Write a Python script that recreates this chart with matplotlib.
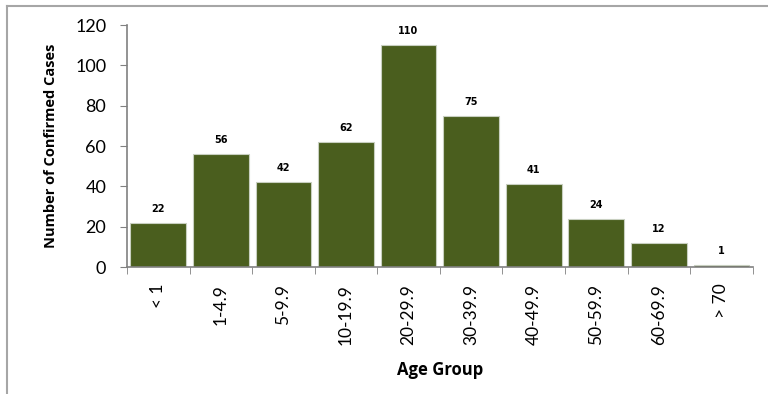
import matplotlib.pyplot as plt
from matplotlib.lines import Line2D
import numpy as np

# Datos
grupos = ['< 1', '1-4.9', '5-9.9', '10-19.9', '20-29.9', '30-39.9',
          '40-49.9', '50-59.9', '60-69.9', '> 70']
casos = [22, 56, 42, 62, 110, 75, 41, 24, 12, 1]

plt.rcParams['font.family'] = ['Lato', 'DejaVu Sans']

fig = plt.figure(figsize=(7.68, 3.94), dpi=100)
ax = fig.add_axes([0.1654, 0.3223, 0.8146, 0.6142])

x = np.arange(len(grupos))
ax.bar(x, casos, width=0.89, color='#4a5e1e', edgecolor='#c8cfc0', linewidth=0.8)

for xi, v in zip(x, casos):
    ax.text(xi, v + 4.5, str(v), ha='center', va='bottom', fontsize=7,
            fontweight='bold', family=['DejaVu Sans'])

ax.set_xlim(-0.5, len(grupos) - 0.5)
ax.set_ylim(0, 120)
ax.set_yticks(range(0, 121, 20))
ax.tick_params(axis='y', labelsize=13, length=5, pad=10, color='#808080', direction='out')
ax.set_xticks(x)
ax.set_xticklabels(grupos, rotation=90, fontsize=12.5)
ax.tick_params(axis='x', length=0, pad=12)
ax.set_xticks(np.arange(-0.5, len(grupos)), minor=True)
ax.tick_params(axis='x', which='minor', length=5, color='#808080', direction='out')

for s in ['top', 'right']:
    ax.spines[s].set_visible(False)
for s in ['left', 'bottom']:
    ax.spines[s].set_color('#808080')
    ax.spines[s].set_linewidth(1.2)

ax.set_ylabel('Number of Confirmed Cases', fontsize=10.5, fontweight='bold',
              labelpad=12, family=['Open Sans', 'DejaVu Sans'])
ax.set_xlabel('Age Group', fontsize=12, fontweight='bold', labelpad=12,
              family=['Open Sans', 'DejaVu Sans'])

# Marco del gráfico
fig.add_artist(Line2D([7 / 768, 1], [1 - 6 / 394, 1 - 6 / 394], color='#a6a6a6', lw=1.5))
fig.add_artist(Line2D([7 / 768, 7 / 768], [0, 1 - 6 / 394], color='#a6a6a6', lw=1.5))

fig.savefig('out.png', dpi=100)
